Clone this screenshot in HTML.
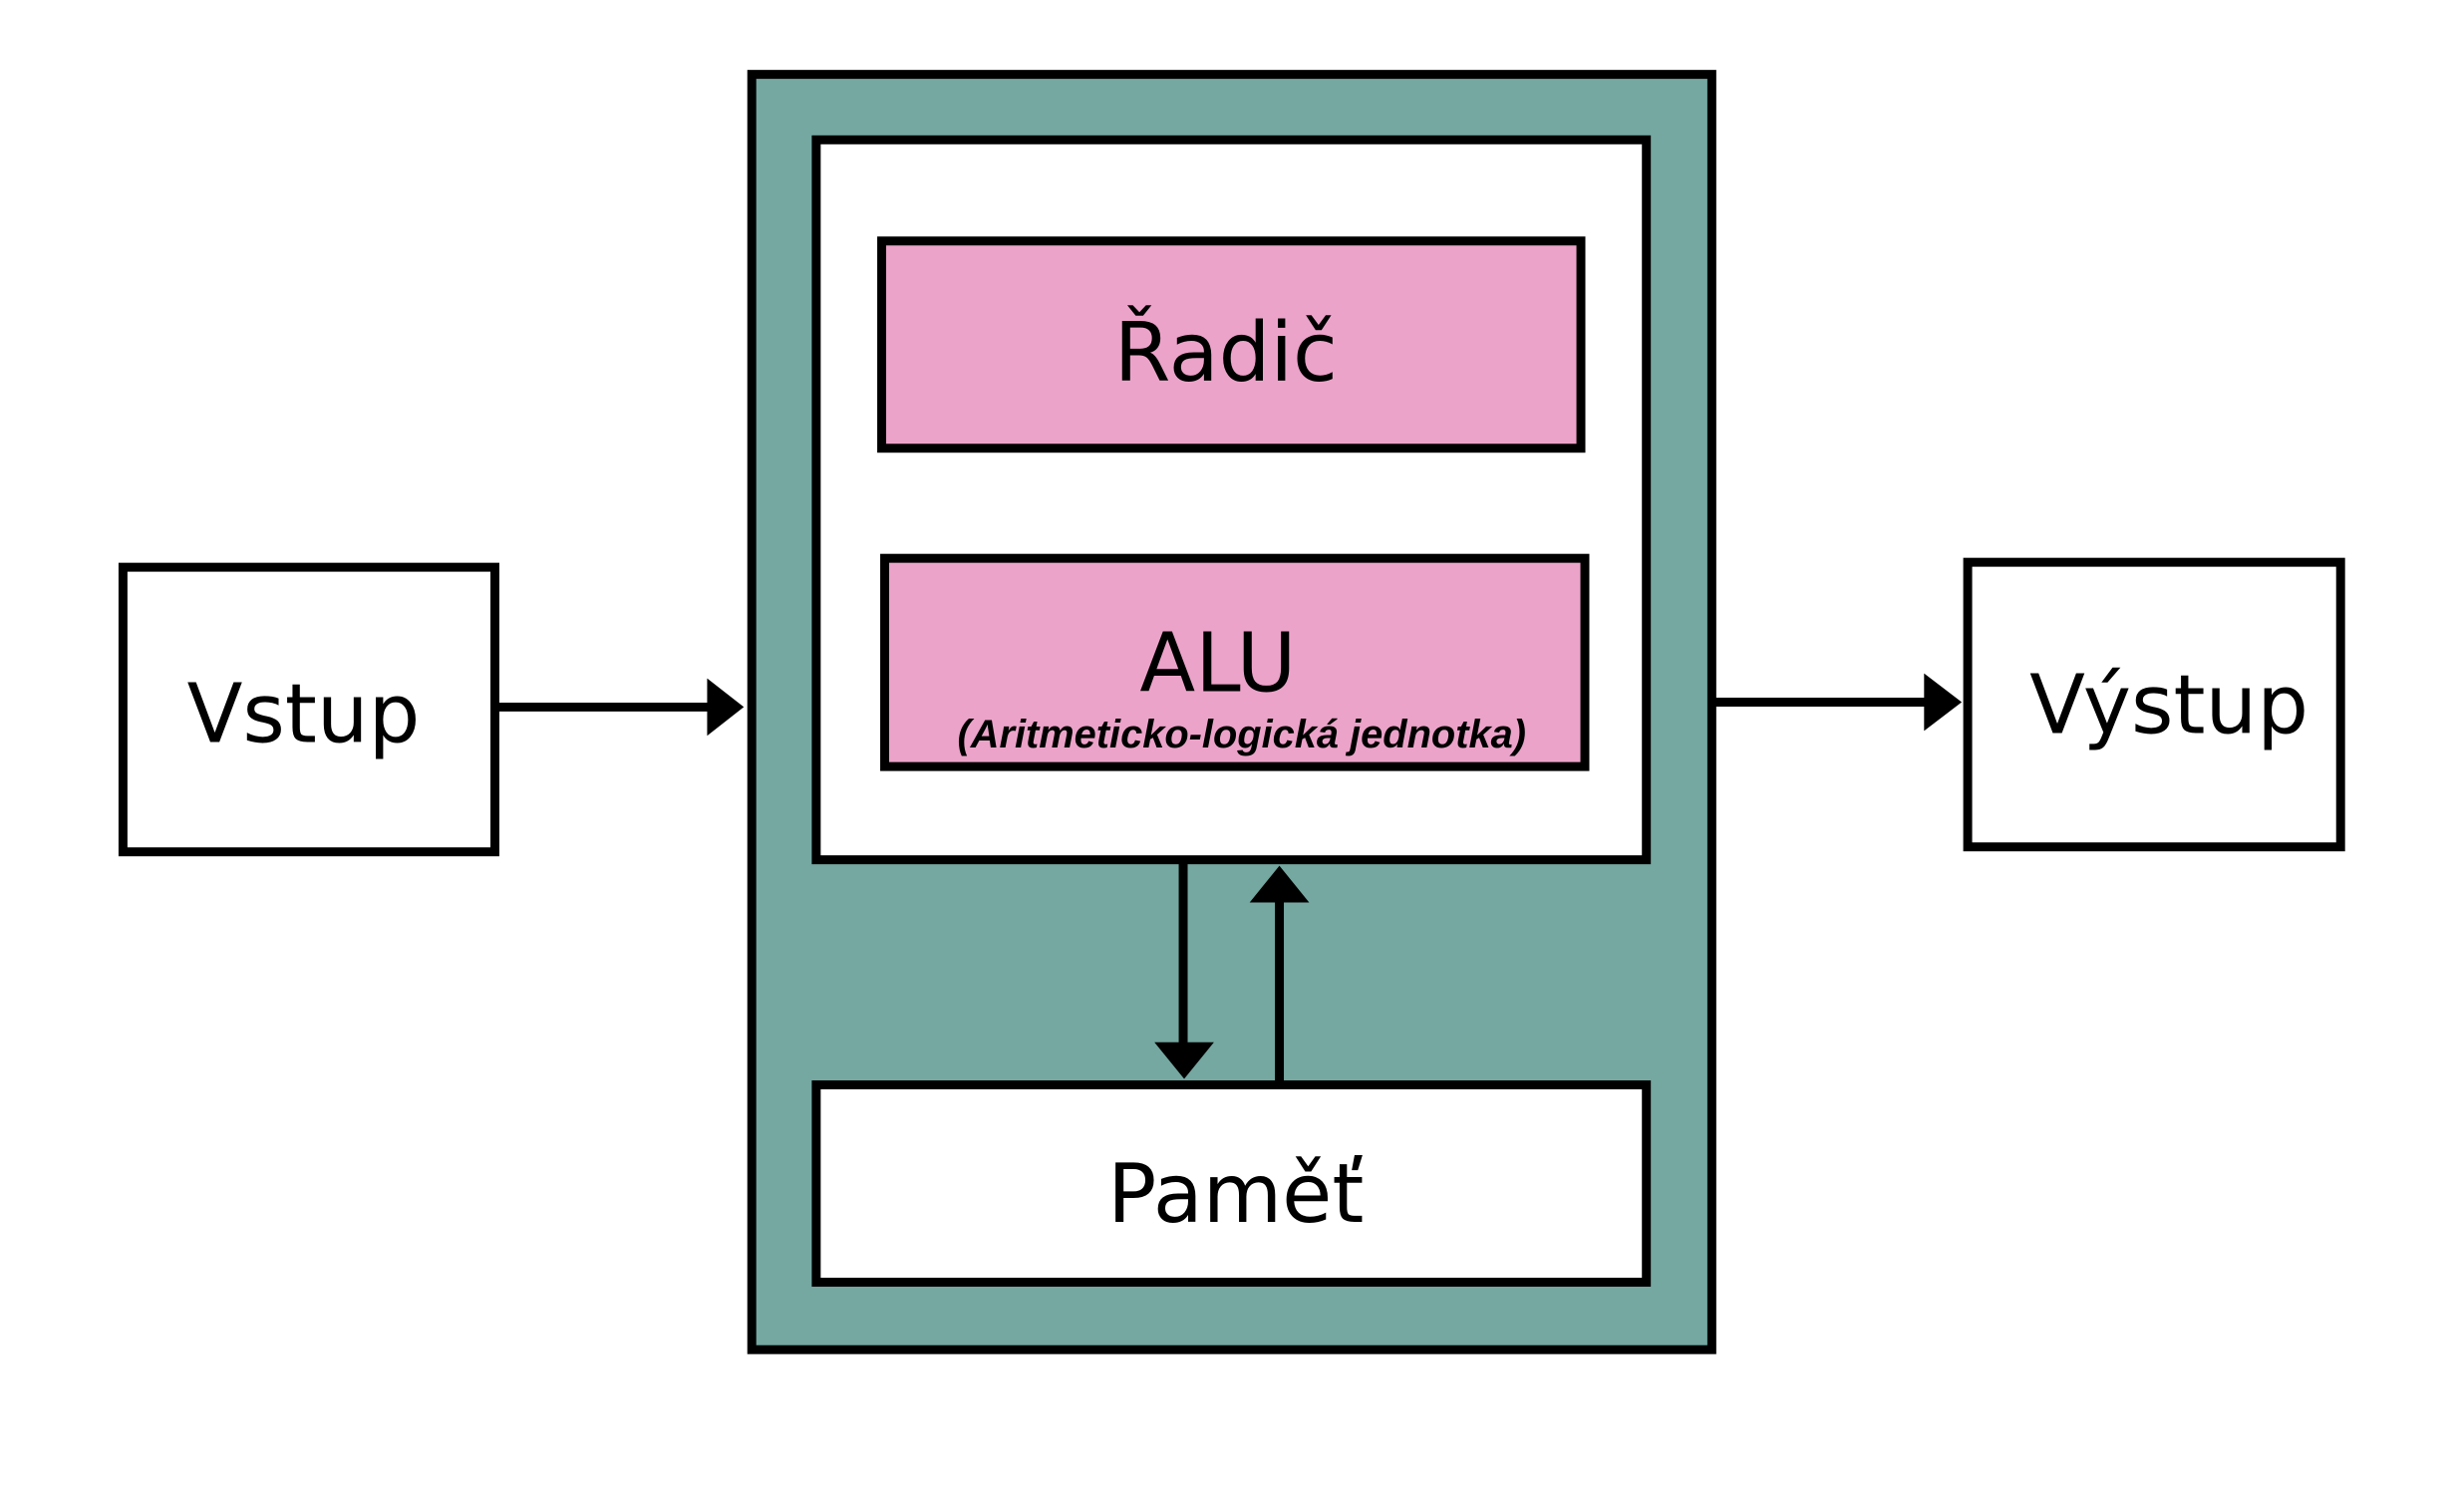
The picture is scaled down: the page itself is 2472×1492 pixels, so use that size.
<!DOCTYPE html>
<html><head><meta charset="utf-8"><style>html,body{margin:0;padding:0;background:#fff}svg{display:block}</style></head><body>
<svg width="2472" height="1492" viewBox="0 0 2472 1492" xmlns="http://www.w3.org/2000/svg">
<g transform="scale(0.995)">
<g stroke="#000" stroke-width="9">
<rect x="758" y="75" width="968" height="1286" fill="#74a8a1"/>
<rect x="823" y="141" width="837" height="726" fill="#fff"/>
<rect x="889" y="243" width="705" height="209" fill="#eca3c9"/>
<rect x="892" y="563" width="706" height="210" fill="#eca3c9"/>
<rect x="823" y="1094" width="837" height="199" fill="#fff"/>
<rect x="124" y="572" width="375" height="287" fill="#fff"/>
<rect x="1984" y="567" width="376" height="287" fill="#fff"/>
<line x1="499" y1="713" x2="720" y2="713"/>
<line x1="1726" y1="708" x2="1945" y2="708"/>
<line x1="1193" y1="867" x2="1193" y2="1055"/>
<line x1="1290" y1="1094" x2="1290" y2="905"/>
</g>
<g fill="#000">
<polygon points="713,684 750,713 713,742"/>
<polygon points="1940,679 1978,708 1940,737"/>
<polygon points="1164,1051 1224,1051 1194,1088"/>
<polygon points="1260,910 1320,910 1290,873"/>
</g>
<g font-family="'DejaVu Sans','Liberation Sans',sans-serif" font-size="82" text-anchor="middle" fill="#000">
<text x="1236" y="384">Řadič</text>
<text x="1228" y="697">ALU</text>
<text x="306" y="748">Vstup</text>
<text x="2187" y="739">Výstup</text>
<text x="1246" y="1232">Paměť</text>
</g>
<text x="1252" y="754" font-family="'Liberation Sans',sans-serif" font-size="40" font-weight="bold" font-style="italic" text-anchor="middle">(Aritmeticko-logická jednotka)</text>
</g>
</svg>
</body></html>
